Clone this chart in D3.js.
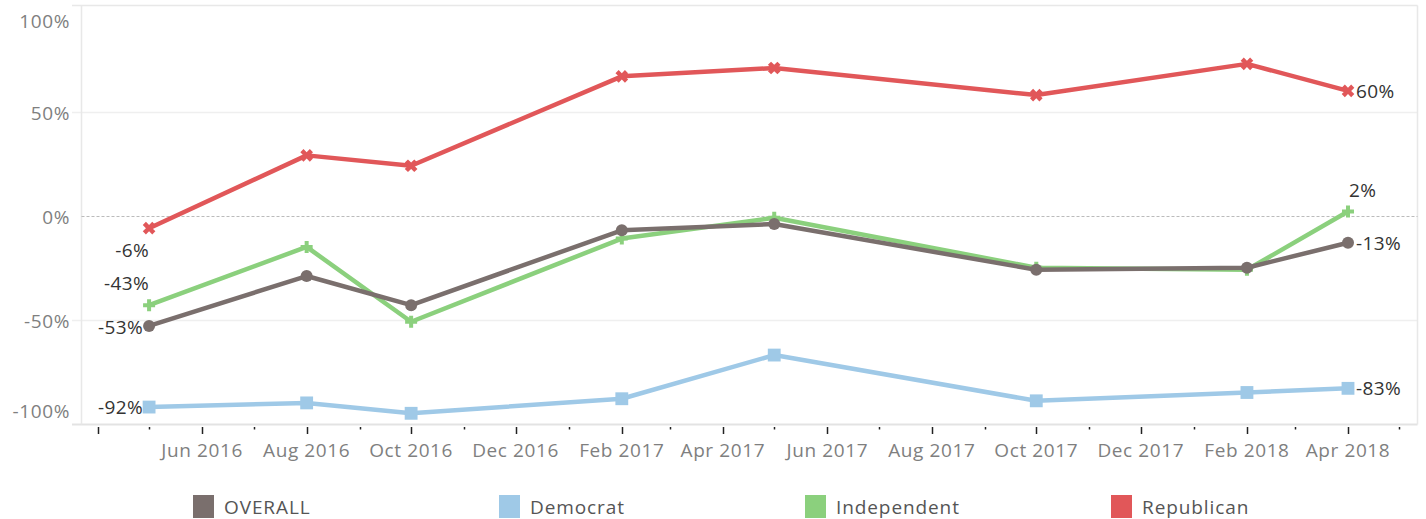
<!DOCTYPE html>
<html>
<head>
<meta charset="utf-8">
<script src="https://cdn.jsdelivr.net/npm/d3@7"></script>
<style>
  body { margin: 0; background: #fff; }
  svg { display: block; font-family: "Open Sans", "Noto Sans", sans-serif; }
</style>
</head>
<body>
<svg id="chart" width="1426" height="519"></svg>
<script>
// ---- data ----
const dates = ["2016-05-01", "2016-08-01", "2016-10-01", "2017-02-01", "2017-05-01", "2017-10-01", "2018-02-01", "2018-04-01"];
const seriesNames = ["OVERALL", "Democrat", "Independent", "Republican"];
const overallValues     = [-53, -29, -43, -7, -4, -26, -25, -13];
const democratValues    = [-92, -90, -95, -88, -67, -89, -85, -83];
const independentValues = [-43, -15, -51, -11, -1, -25, -26, 2];
const republicanValues  = [-6, 29, 24, 67, 71, 58, 73, 60];
const yTickValues = [100, 50, 0, -50, -100];
const xTickLabels = ["Jun 2016", "Aug 2016", "Oct 2016", "Dec 2016", "Feb 2017", "Apr 2017", "Jun 2017", "Aug 2017", "Oct 2017", "Dec 2017", "Feb 2018", "Apr 2018"];

const colors = { "OVERALL": "#7a6f6d", "Democrat": "#9fc9e7", "Independent": "#8bd07d", "Republican": "#e15759" };
const valuesBySeries = { "OVERALL": overallValues, "Democrat": democratValues, "Independent": independentValues, "Republican": republicanValues };

const parse = d3.utcParse("%Y-%m-%d");
const svg = d3.select("#chart");

const plot = { left: 81.5, right: 1417.5, top: 5.5, bottom: 424.5 };

const x = d3.scaleUtc()
  .domain([parse("2016-04-01"), parse("2018-04-01")])
  .range([97.7, 1348]);
const y = d3.scaleLinear().domain([-100, 100]).range([423.7, 7.7]);

const axisFont = 19, axisSpacing = 0.6;

// gridlines
const gridG = svg.append("g");
[50, -50].forEach(v => {
  gridG.append("line").attr("x1", 72).attr("x2", plot.right)
    .attr("y1", Math.round(y(v)) + 0.5).attr("y2", Math.round(y(v)) + 0.5)
    .attr("stroke", "#efefef").attr("stroke-width", 1.5);
});
// frame
gridG.append("line").attr("x1", 72).attr("x2", plot.right).attr("y1", plot.top).attr("y2", plot.top).attr("stroke", "#e8e8e8").attr("stroke-width", 1.5);
gridG.append("line").attr("x1", 72).attr("x2", plot.right).attr("y1", plot.bottom).attr("y2", plot.bottom).attr("stroke", "#e3e3e3").attr("stroke-width", 2);
gridG.append("line").attr("x1", plot.left).attr("x2", plot.left).attr("y1", plot.top).attr("y2", plot.bottom).attr("stroke", "#e8e8e8").attr("stroke-width", 1.5);
gridG.append("line").attr("x1", plot.right).attr("x2", plot.right).attr("y1", plot.top).attr("y2", plot.bottom).attr("stroke", "#e8e8e8").attr("stroke-width", 1.5);
// zero line
gridG.append("line").attr("x1", plot.left).attr("x2", plot.right)
  .attr("y1", Math.round(y(0)) + 0.5).attr("y2", Math.round(y(0)) + 0.5)
  .attr("stroke", "#bbbbbb").attr("stroke-width", 1).attr("stroke-dasharray", "3,2");

// y axis labels
const yLab = svg.append("g");
yTickValues.forEach(v => {
  let yy = y(v) + 8;
  if (v === 100) yy = y(v) + 20;
  if (v === -100) yy = y(v) - 6;
  yLab.append("text").attr("x", 70).attr("y", yy).attr("text-anchor", "end")
    .attr("font-size", axisFont).attr("letter-spacing", axisSpacing).attr("fill", "#7f7f7f").text(v + "%");
});

// x axis ticks (monthly, major every 2 months)
const months = d3.utcMonth.range(parse("2016-04-01"), parse("2018-05-02"));
const xAxisG = svg.append("g");
months.forEach(m => {
  const major = (m.getUTCMonth() % 2) === 1; // Apr, Jun, Aug...
  const xx = Math.round(x(m)) + 0.5;
  xAxisG.append("line").attr("x1", xx).attr("x2", xx)
    .attr("y1", 427).attr("y2", major ? 434 : 429.5)
    .attr("stroke", "#222").attr("stroke-width", 1.5);
});
const fmt = d3.utcFormat("%b %Y");
months.filter(m => xTickLabels.includes(fmt(m))).forEach(m => {
  xAxisG.append("text").attr("x", x(m)).attr("y", 457).attr("text-anchor", "middle")
    .attr("font-size", axisFont).attr("letter-spacing", axisSpacing).attr("fill", "#7f7f7f").text(fmt(m));
});

// lines & markers
const line = d3.line().x(d => x(d.date)).y(d => y(d.value));
const drawOrder = ["Republican", "Democrat", "Independent", "OVERALL"];
const symbolFor = {
  "OVERALL": { type: d3.symbolCircle, size: Math.PI * 36, rotate: 0 },
  "Democrat": { type: d3.symbolSquare, size: 165, rotate: 0 },
  "Independent": { type: d3.symbolCross, size: 80, rotate: 0 },
  "Republican": { type: d3.symbolCross, size: 100, rotate: 45 }
};
drawOrder.forEach(name => {
  const data = dates.map((d, i) => ({ date: parse(d), value: valuesBySeries[name][i] }));
  const g = svg.append("g");
  g.append("path").datum(data).attr("d", line).attr("fill", "none")
    .attr("stroke", colors[name]).attr("stroke-width", 4.5).attr("stroke-linejoin", "round");
  const s = symbolFor[name];
  g.selectAll("path.m").data(data).join("path").attr("class", "m")
    .attr("d", d3.symbol().type(s.type).size(s.size))
    .attr("transform", d => `translate(${x(d.date)},${y(d.value)}) rotate(${s.rotate})`)
    .attr("fill", colors[name]);
});

// data labels
const lab = svg.append("g").attr("font-size", 19).attr("letter-spacing", 0.4).attr("fill", "#333");
function addLabel(name, idx, dx, dy, anchor) {
  const v = valuesBySeries[name][idx];
  lab.append("text").attr("x", x(parse(dates[idx])) + dx).attr("y", y(v) + dy)
    .attr("text-anchor", anchor).text(v + "%");
}
const last = dates.length - 1;
addLabel("Republican", 0, 0, 29, "end");
addLabel("Independent", 0, 0, -15, "end");
addLabel("OVERALL", 0, -6, 8, "end");
addLabel("Democrat", 0, -6, 7, "end");
addLabel("Republican", last, 8, 7, "start");
addLabel("Independent", last, 1, -15, "start");
addLabel("OVERALL", last, 8, 7, "start");
addLabel("Democrat", last, 8, 7, "start");

// legend
const legX = [193, 499, 805, 1111];
const leg = svg.append("g");
seriesNames.forEach((name, i) => {
  leg.append("rect").attr("x", legX[i]).attr("y", 495).attr("width", 21).attr("height", 23).attr("fill", colors[name]);
  leg.append("text").attr("x", legX[i] + 31).attr("y", 514).attr("font-size", 19).attr("letter-spacing", 0.9).attr("fill", "#555").text(name);
});
</script>
</body>
</html>
